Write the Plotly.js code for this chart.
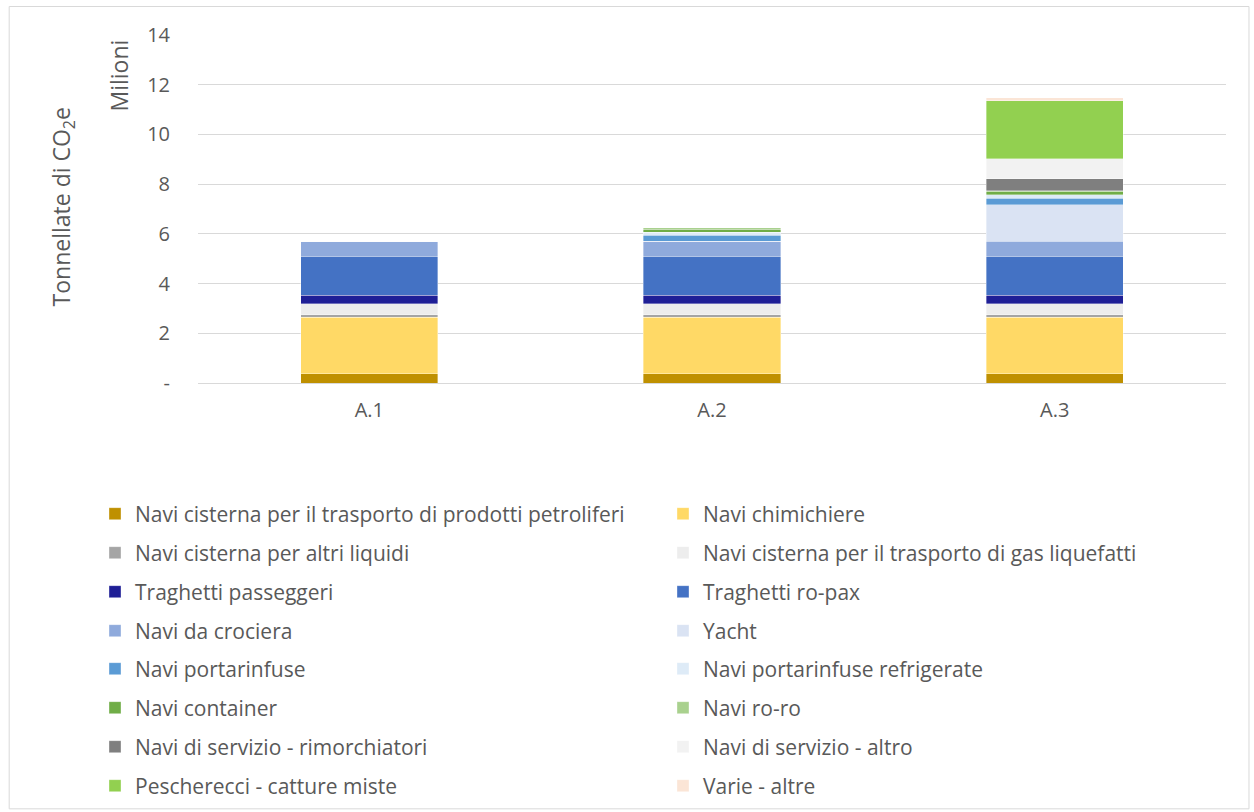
<!DOCTYPE html>
<html>
<head>
<meta charset="utf-8">
<script src="https://cdn.plot.ly/plotly-3.0.1.min.js"></script>
<style>html,body{margin:0;padding:0;background:#fff;}#chart{width:1254px;height:812px;}</style>
</head>
<body>
<div id="chart"></div>
<script>
var categories = ['A.1', 'A.2', 'A.3'];

var seriesNames = [
  'Navi cisterna per il trasporto di prodotti petroliferi',
  'Navi chimichiere',
  'Navi cisterna per altri liquidi',
  'Navi cisterna per il trasporto di gas liquefatti',
  'Traghetti passeggeri',
  'Traghetti ro-pax',
  'Navi da crociera',
  'Yacht',
  'Navi portarinfuse',
  'Navi portarinfuse refrigerate',
  'Navi container',
  'Navi ro-ro',
  'Navi di servizio - rimorchiatori',
  'Navi di servizio - altro',
  'Pescherecci - catture miste',
  'Varie - altre'
];

// values in millions of tonnes CO2e
var petroliferi     = [0.37, 0.37, 0.37];
var chimichiere     = [2.27, 2.27, 2.27];
var altriLiquidi    = [0.11, 0.11, 0.11];
var gasLiquefatti   = [0.43, 0.43, 0.43];
var passeggeri      = [0.35, 0.35, 0.35];
var roPax           = [1.57, 1.57, 1.57];
var crociera        = [0.60, 0.60, 0.60];
var yacht           = [0.00, 0.00, 1.47];
var portarinfuse    = [0.00, 0.25, 0.27];
var refrigerate     = [0.00, 0.12, 0.13];
var container       = [0.00, 0.12, 0.13];
var roRo            = [0.00, 0.05, 0.04];
var rimorchiatori   = [0.00, 0.00, 0.48];
var servizioAltro   = [0.00, 0.00, 0.81];
var pescherecci     = [0.00, 0.00, 2.33];
var varie           = [0.00, 0.00, 0.12];

var seriesValues = [petroliferi, chimichiere, altriLiquidi, gasLiquefatti, passeggeri, roPax,
  crociera, yacht, portarinfuse, refrigerate, container, roRo, rimorchiatori, servizioAltro,
  pescherecci, varie];

var colors = ['#BF9000', '#FFD966', '#A5A5A5', '#EDEDED', '#1F1F96', '#4472C4', '#8FAADC',
  '#DAE3F3', '#5B9BD5', '#DEEBF7', '#70AD47', '#A9D18E', '#7F7F7F', '#F2F2F2', '#92D050', '#FBE5D6'];

var yTickVals = [0, 2, 4, 6, 8, 10, 12, 14];
var yTickText = ['-', '2', '4', '6', '8', '10', '12', '14'];

var FONT = '"Open Sans", Lato, sans-serif';
var TXT = '#595959';

var traces = seriesNames.map(function (n, i) {
  return {
    type: 'bar',
    name: n,
    x: categories,
    y: seriesValues[i],
    showlegend: true,
    marker: { color: colors[i], line: { color: 'rgba(255,255,255,0.6)', width: 0.6 } },
    legend: i === 0 ? 'legend' : 'legend' + (i + 1),
    hoverinfo: 'name+y'
  };
});

var FW = 1254, FH = 812;
var L = 197.5, R = 27.5, T = 35, B = FH - 383.3;
var W = FW - L - R, H = FH - T - B;
var rowsY = [514, 553, 592, 631, 669, 708, 747, 786];
var colTextX = [135, 703];

var layout = {
  width: FW, height: FH,
  showlegend: true,
  margin: { l: L, r: R, t: T, b: B, pad: 0, autoexpand: false },
  paper_bgcolor: '#FFFFFF', plot_bgcolor: '#FFFFFF',
  barmode: 'stack',
  bargap: 0.6,
  font: { family: FONT, size: 21, color: TXT },
  xaxis: {
    type: 'category',
    tickfont: { family: FONT, size: 20, color: TXT },
    showline: false, showgrid: false, zeroline: false,
    ticks: '', ticklabelstandoff: 13
  },
  yaxis: {
    range: [0, 14],
    tickvals: yTickVals, ticktext: yTickText,
    tickfont: { family: FONT, size: 20, color: TXT },
    showgrid: true, gridcolor: '#D9D9D9', gridwidth: 1,
    zeroline: true, zerolinecolor: '#D9D9D9', zerolinewidth: 1,
    showline: false, ticks: '', ticklabelstandoff: 27
  },
  annotations: [
    { text: 'Tonnellate di CO<sub>2</sub>e', xref: 'paper', yref: 'paper',
      x: (62 - L) / W, y: (383.3 - 207) / H, xanchor: 'center', yanchor: 'middle', textangle: -90,
      showarrow: false, font: { family: FONT, size: 23, color: TXT } },
    { text: 'Milioni', xref: 'paper', yref: 'paper',
      x: (118 - L) / W, y: (383.3 - 76) / H, xanchor: 'center', yanchor: 'middle', textangle: -90,
      showarrow: false, font: { family: FONT, size: 23, color: TXT } }
  ],
  shapes: [
    { type: 'rect', xref: 'paper', yref: 'paper',
      x0: (8.5 - L) / W, x1: (1249.5 - L) / W, y0: (383.3 - 809.5) / H, y1: (383.3 - 6.5) / H,
      line: { color: '#D9D9D9', width: 1 }, fillcolor: 'rgba(0,0,0,0)', layer: 'below' }
  ]
};

seriesNames.forEach(function (n, i) {
  var key = i === 0 ? 'legend' : 'legend' + (i + 1);
  var row = Math.floor(i / 2), col = i % 2;
  layout[key] = {
    visible: true,
    orientation: 'v',
    xref: 'container', yref: 'container',
    x: (colTextX[col] - 40) / FW, xanchor: 'left',
    y: 1 - rowsY[row] / FH, yanchor: 'middle',
    font: { family: FONT, size: 21, color: TXT },
    bgcolor: 'rgba(0,0,0,0)', borderwidth: 0
  };
});

Plotly.newPlot('chart', traces, layout, { displayModeBar: false, staticPlot: true });
</script>
</body>
</html>
